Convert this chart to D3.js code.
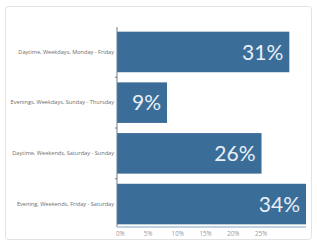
<!DOCTYPE html>
<html><head><meta charset="utf-8">
<script src="https://cdn.jsdelivr.net/npm/d3@7"></script>
<style>
html,body{margin:0;padding:0;background:#fff;}
svg{display:block;}
</style></head>
<body>
<script>
const categories = ["Daytime, Weekdays, Monday - Friday","Evenings, Weekdays, Sunday - Thursday","Daytime, Weekends, Saturday - Sunday","Evening, Weekends, Friday - Saturday"];
const values = [31, 9, 26, 34];
const tickValues = [0, 5, 10, 15, 20, 25];

const W = 317, H = 243;
const svg = d3.select("body").append("svg").attr("width", W).attr("height", H);

// card
svg.append("rect").attr("x",5.5).attr("y",6.5).attr("width",306).attr("height",233)
  .attr("rx",3).attr("fill","#fff").attr("stroke","#e2e2e2").attr("stroke-width",1);

const x = d3.scaleLinear().domain([0, 34]).range([117, 306]);
const y = d3.scaleBand().domain(categories).range([26.6, 229.4]).paddingInner(0.2).paddingOuter(0.1);

// bars
svg.selectAll("rect.bar").data(values).enter().append("rect")
  .attr("class","bar")
  .attr("x", x(0))
  .attr("y", (d,i)=>y(categories[i]))
  .attr("width", d=>x(d)-x(0))
  .attr("height", y.bandwidth())
  .attr("fill","#3b6d99");

// value labels
svg.selectAll("text.val").data(values).enter().append("text")
  .attr("class","val")
  .attr("x", d=>x(d)-6)
  .attr("y", (d,i)=>y(categories[i])+y.bandwidth()/2)
  .attr("dy","0.36em")
  .attr("text-anchor","end")
  .attr("font-family","Lato, 'Open Sans', sans-serif")
  .attr("font-size",21)
  .attr("fill","#e9eff5")
  .text(d=>d+"%");

// y axis
const yAxis = d3.axisLeft(y).tickSize(0).tickPadding(3);
const gy = svg.append("g").attr("transform",`translate(${x(0)},0)`).call(yAxis);
gy.select(".domain").attr("stroke","#6a7f93").attr("stroke-width",1).attr("d",`M0,27V227`);
gy.selectAll("text").attr("font-family","'Open Sans', sans-serif").attr("font-size",5.6).attr("fill","#6d6d6d");
// small separator ticks between bands
const seps = categories.slice(1).map(c=>y(c)-y.step()*y.paddingInner()/2);
gy.selectAll("line.sep").data(seps).enter().append("line").attr("class","sep")
  .attr("x1",-2).attr("x2",0).attr("y1",d=>d).attr("y2",d=>d).attr("stroke","#6a7f93");

// x axis
const xAxis = d3.axisBottom(x).tickValues(tickValues).tickSize(0).tickPadding(5).tickFormat(d=>d+"%");
const gx = svg.append("g").attr("transform","translate(0,227)").call(xAxis);
gx.select(".domain").attr("stroke","#a9c3da").attr("stroke-width",1.5).attr("d",`M${x(0)},0H${x(34)}`);
gx.selectAll("text").attr("text-anchor","start").attr("dx","-1.5")
  .attr("font-family","'Open Sans', sans-serif").attr("font-size",6.2).attr("fill","#999");
</script>
</body></html>
